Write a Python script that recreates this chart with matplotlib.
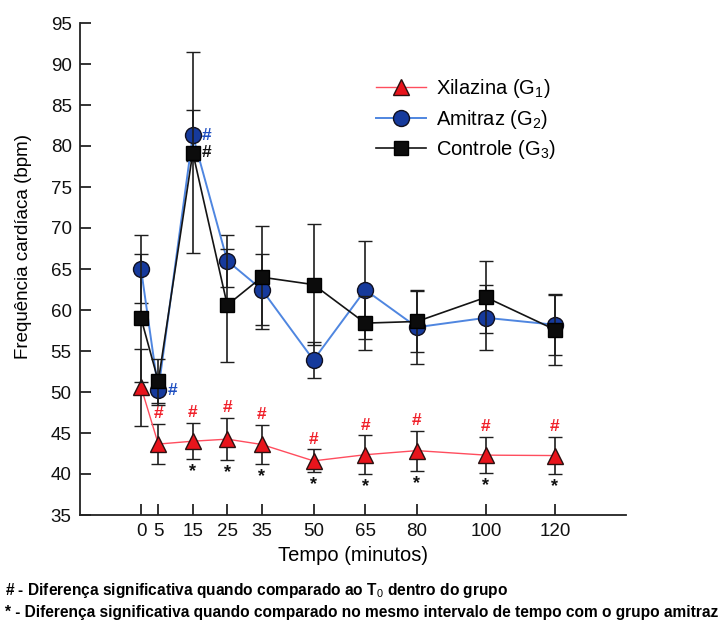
import matplotlib
matplotlib.use("Agg")
from matplotlib import pyplot as plt
from matplotlib.lines import Line2D

plt.rcParams['font.family'] = ['Liberation Sans', 'DejaVu Sans']
plt.rcParams['mathtext.fontset'] = 'custom'
plt.rcParams['mathtext.rm'] = 'Liberation Sans'
plt.rcParams['mathtext.it'] = 'Liberation Sans'

# tempo (minutos)
times = [0, 5, 15, 25, 35, 50, 65, 80, 100, 120]

# Xilazina (G1)
g1_mean = [50.6, 43.65, 44.0, 44.25, 43.6, 41.6, 42.35, 42.85, 42.3, 42.25]
g1_sd = [4.7, 2.45, 2.2, 2.55, 2.4, 1.4, 2.35, 2.45, 2.2, 2.25]
# Amitraz (G2)
g2_mean = [65.0, 50.2, 81.3, 66.0, 62.5, 53.9, 62.45, 57.9, 59.05, 58.2]
g2_sd = [4.1, 1.8, 3.1, 3.2, 4.3, 2.2, 5.95, 4.5, 3.95, 3.65]
# Controle (G3)
g3_mean = [59.0, 51.3, 79.2, 60.6, 64.0, 63.1, 58.4, 58.6, 61.55, 57.6]
g3_sd = [7.8, 2.7, 12.3, 6.9, 6.3, 7.4, 3.3, 3.7, 4.4, 4.3]

# marcas de significancia
g1_hash = [5, 15, 25, 35, 50, 65, 80, 100, 120]
g1_star = [15, 25, 35, 50, 65, 80, 100, 120]
g2_hash = [5, 15]
g3_hash = [15]

fig = plt.figure(figsize=(7.25, 6.2), dpi=100)
ax = fig.add_axes([80 / 725, 1 - 515 / 620, (626 - 80) / 725, (515 - 23) / 620])

err_kw = dict(ecolor='#1e1e1e', elinewidth=1.2, capsize=5, capthick=1.2)

styles = [
    dict(color='#ff4d5e', lw=1.0, marker='^', ms=12, mfc='#e8141c',
         mec='#2a1010', mew=1.0),
    dict(color='#4f86e0', lw=1.4, marker='o', ms=11.5, mfc='#163a9c',
         mec='#101020', mew=1.0),
    dict(color='#141414', lw=1.2, marker='s', ms=10.5, mfc='#0c0c0c',
         mec='#000000', mew=1.0),
]
labels = ['Xilazina (G$_1$)', 'Amitraz (G$_2$)', 'Controle (G$_3$)']

for k, (m, sd) in enumerate([(g1_mean, g1_sd), (g2_mean, g2_sd),
                             (g3_mean, g3_sd)]):
    ax.errorbar(times, m, yerr=sd, zorder=3 + k, **styles[k], **err_kw)

for t in g1_hash:
    i = times.index(t)
    ax.annotate('#', (t, g1_mean[i] + g1_sd[i]), xytext=(0, 2),
                textcoords='offset points', ha='center', va='bottom',
                color='#f0202a', fontsize=12.5, fontweight='bold')
for t in g1_star:
    i = times.index(t)
    ax.annotate('*', (t, g1_mean[i] - g1_sd[i]), xytext=(0, -3),
                textcoords='offset points', ha='center', va='top',
                color='#111111', fontsize=13, fontweight='bold')
for t in g2_hash:
    i = times.index(t)
    ax.annotate('#', (t, g2_mean[i]), xytext=(10, 0),
                textcoords='offset points', ha='center', va='center',
                color='#1f4fc0', fontsize=12.5, fontweight='bold')
for t in g3_hash:
    i = times.index(t)
    ax.annotate('#', (t, g3_mean[i]), xytext=(10, 0),
                textcoords='offset points', ha='center', va='center',
                color='#111111', fontsize=12.5, fontweight='bold')

ax.set_xlim(-17.7, 140.6)
ax.set_ylim(35, 95)
ax.set_xticks(times)
ax.set_yticks(range(35, 96, 5))
ax.tick_params(direction='in', length=8, width=1.2, labelsize=13.5,
               colors='#111111', pad=6)
for s in ['top', 'right']:
    ax.spines[s].set_visible(False)
for s in ['left', 'bottom']:
    ax.spines[s].set_linewidth(1.3)
    ax.spines[s].set_color('#222222')

ax.set_xlabel('Tempo (minutos)', fontsize=14.5, labelpad=4)
ax.set_ylabel('Frequência cardíaca (bpm)', fontsize=13.5)
ax.yaxis.set_label_coords(-0.088, 0.545)

handles = [Line2D([], [], **st) for st in styles]
ax.legend(handles, labels, loc='upper left',
          bbox_to_anchor=(376 / 725, 1 - 77 / 620),
          bbox_transform=fig.transFigure, frameon=False, fontsize=14.5,
          handlelength=2.5, handletextpad=0.5, labelspacing=0.38,
          borderpad=0, borderaxespad=0, numpoints=1)

fig.text(5 / 725, 1 - 590 / 620,
         '# - Diferença significativa quando comparado ao T$_0$ dentro do grupo',
         fontsize=11.2, fontweight='bold', va='center')
fig.text(5 / 725, 1 - 612 / 620,
         '* - Diferença significativa quando comparado no mesmo intervalo de tempo com o grupo amitraz',
         fontsize=11.2, fontweight='bold', va='center')

fig.savefig('out.png', dpi=100)
